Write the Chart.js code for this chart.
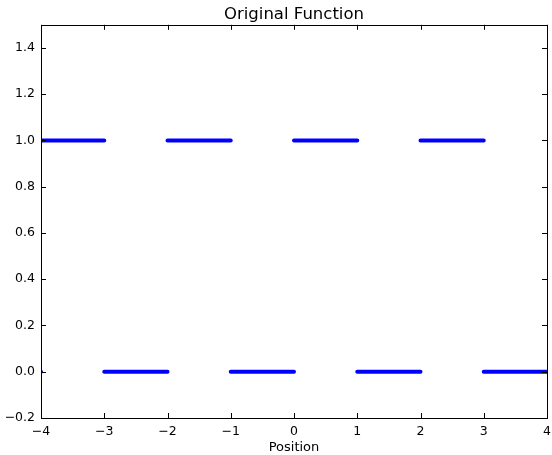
<!DOCTYPE html>
<html>
<head>
<meta charset="utf-8">
<script src="https://cdn.jsdelivr.net/npm/chart.js@4"></script>
<style>
  body { margin: 0; background: #fff; }
</style>
</head>
<body>
<canvas id="chart" width="552" height="455"></canvas>
<script>
// square wave, one flat piece per unit interval
const segStart = [-4, -4, -3, -2, -1, 0, 1, 2, 3];
const segEnd   = [-4, -3, -2, -1, 0, 1, 2, 3, 4];
const segLevel = [0, 1, 0, 1, 0, 1, 0, 1, 0];

const xTicks = [-4, -3, -2, -1, 0, 1, 2, 3, 4];
const yTicks = [-0.2, 0, 0.2, 0.4, 0.6, 0.8, 1.0, 1.2, 1.4];

// points with a null between pieces so the line breaks
const points = [];
segStart.forEach((s, i) => {
  points.push({ x: s, y: segLevel[i] });
  points.push({ x: segEnd[i], y: segLevel[i] });
  points.push({ x: segEnd[i], y: null });
});

const minus = s => s.replace('-', '\u2212');
const FONT = 'DejaVu Sans';

// matplotlib classic look: box round the axes, ticks pointing inward
const frame = {
  id: 'frame',
  afterDraw(chart) {
    const { ctx, chartArea: a, scales } = chart;
    const len = 5;
    ctx.save();
    ctx.strokeStyle = '#000';
    ctx.lineWidth = 1;
    ctx.beginPath();
    scales.x.ticks.forEach(t => {
      const px = Math.round(scales.x.getPixelForValue(t.value)) + 0.5;
      ctx.moveTo(px, a.bottom); ctx.lineTo(px, a.bottom - len);
      ctx.moveTo(px, a.top); ctx.lineTo(px, a.top + len);
    });
    scales.y.ticks.forEach(t => {
      const py = Math.round(scales.y.getPixelForValue(t.value)) + 0.5;
      ctx.moveTo(a.left, py); ctx.lineTo(a.left + len, py);
      ctx.moveTo(a.right, py); ctx.lineTo(a.right - len, py);
    });
    ctx.stroke();
    ctx.strokeRect(Math.round(a.left) + 0.5, Math.round(a.top) + 0.5,
      Math.round(a.right - a.left), Math.round(a.bottom - a.top));
    ctx.restore();
  }
};

new Chart(document.getElementById('chart'), {
  type: 'line',
  data: {
    datasets: [{
      data: points,
      borderColor: '#0000ff',
      borderWidth: 4,
      borderCapStyle: 'round',
      pointRadius: 0,
      spanGaps: false,
      clip: 0
    }]
  },
  options: {
    responsive: false,
    animation: false,
    layout: { padding: { left: 0, right: 5, top: 0, bottom: 0 } },
    plugins: {
      legend: { display: false },
      tooltip: { enabled: false },
      title: {
        display: true,
        fullSize: false,
        text: 'Original Function',
        color: '#000',
        font: { family: FONT, size: 16.5, weight: 'normal', lineHeight: 1.2 },
        padding: { top: 5, bottom: 0 }
      }
    },
    scales: {
      x: {
        type: 'linear',
        min: -4,
        max: 4,
        afterBuildTicks: s => { s.ticks = xTicks.map(v => ({ value: v })); },
        afterFit: s => { s.height = 37; s.paddingLeft = 0; s.paddingRight = 0; },
        grid: { display: false, drawTicks: false },
        border: { display: false },
        ticks: {
          padding: 6,
          color: '#000',
          font: { family: FONT, size: 12.5 },
          maxRotation: 0,
          callback: v => minus(String(v))
        },
        title: {
          display: true,
          text: 'Position',
          color: '#000',
          font: { family: FONT, size: 13 },
          padding: { top: 0, bottom: 0 }
        }
      },
      y: {
        min: -0.2,
        max: 1.5,
        afterBuildTicks: s => { s.ticks = yTicks.map(v => ({ value: v })); },
        afterFit: s => { s.width = 41; s.paddingTop = 0; s.paddingBottom = 0; },
        grid: { display: false, drawTicks: false },
        border: { display: false },
        ticks: {
          padding: 6,
          color: '#000',
          font: { family: FONT, size: 12.5 },
          callback: v => minus(v.toFixed(1))
        }
      }
    }
  },
  plugins: [frame]
});
</script>
</body>
</html>
